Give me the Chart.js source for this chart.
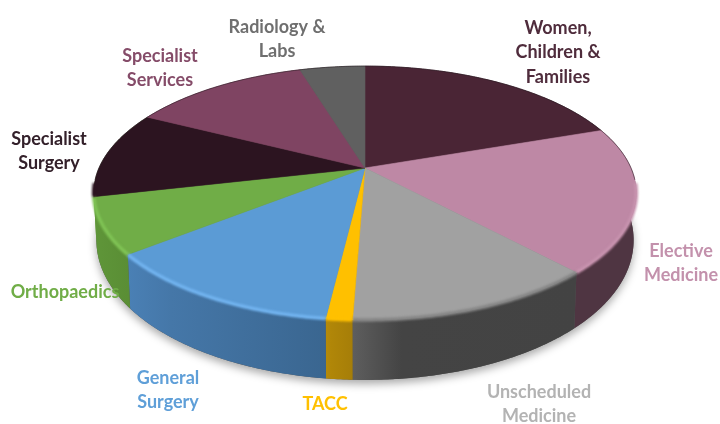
<!DOCTYPE html>
<html>
<head>
<meta charset="utf-8">
<script src="https://cdn.jsdelivr.net/npm/chart.js@4"></script>
<style>
html,body{margin:0;padding:0;background:#fff;width:720px;height:424px;overflow:hidden}
canvas{display:block;filter:blur(0.55px)}
</style>
</head>
<body>
<canvas id="c" width="720" height="424"></canvas>
<script>
const categories = ["Women, Children & Families","Elective Medicine","Unscheduled Medicine","TACC","General Surgery","Orthopaedics","Specialist Surgery","Specialist Services","Radiology & Labs"];
const shares = [19.7,18.4,12.5,1.3,12.4,7.1,11.1,12.8,4.7];
const faceColors = ["#4a2535","#be88a5","#a1a1a1","#ffc000","#5b9bd5","#70ad47","#2c1420","#7f4462","#606060"];
const wallLeft  = ["#3a1c2a","#4f3542","#5e5e5e","#b58a0a","#4a80b5","#5f9639","#5f9639","#5f3049","#4a4a4a"];
const wallMid   = ["#3a1c2a","#4f3542","#444444","#b08608","#4577a8","#5e9438","#5f9639","#5f3049","#4a4a4a"];
const wallRight = ["#3a1c2a","#4f3542","#434343","#a67e08","#3a6690","#5a8e35","#5f9639","#5f3049","#4a4a4a"];
const bevelColors = ["#4a2535","#c893af","#858585","#ffc000","#72b4f0","#80c455","#2c1420","#7f4462","#606060"];
const labelColors = ["#4f2c3c","#c391ac","#b3b3b3","#ffc000","#5f9fd8","#70ad47","#33202a","#854c69","#6f6f6f"];
const labelLines = [["Women,","Children &","Families"],["Elective","Medicine"],["Unscheduled","Medicine"],["TACC"],["General","Surgery"],["Orthopaedics"],["Specialist","Surgery"],["Specialist","Services"],["Radiology &","Labs"]];
const labelAnchors = [[558,28],[681,251],[539,392],[325,404],[168,378],[65,292],[49,139],[160,56],[277,27]];

// Tilted-disc projection applied to the arc angles computed by Chart.js
const view = {cx:365, cy:168, rx:266, ry:122, k:0.197, wallBase:44, wallGrow:16};
function top3d(t){
  const u=Math.cos(t), v=Math.sin(t), w=1-view.k*v;
  return [view.cx+view.rx*u/w, view.cy+view.ry*v/w];
}
function bottom3d(t){
  const p=top3d(t), v=Math.sin(t);
  return [view.cx+(p[0]-view.cx)*0.99, p[1]+view.wallBase+view.wallGrow*v];
}
function samples(a,b){
  const n=Math.max(4,Math.ceil((b-a)/0.01)), out=[];
  for(let i=0;i<=n;i++) out.push(a+(b-a)*i/n);
  return out;
}
function trace(ctx,pts,move){
  pts.forEach((p,i)=>{ if(i===0&&move) ctx.moveTo(p[0],p[1]); else ctx.lineTo(p[0],p[1]); });
}

const tiltedPie = {
  id:'tiltedPie',
  beforeDatasetDraw(chart,args){
    const ctx=chart.ctx, arcs=args.meta.data;
    const spans=arcs.map(a=>[a.startAngle,a.endAngle]);

    // soft shadow under the disc
    ctx.save();
    ctx.shadowColor='rgba(0,0,0,0.34)'; ctx.shadowBlur=9; ctx.shadowOffsetY=4;
    ctx.fillStyle='#555';
    ctx.beginPath();
    trace(ctx,samples(-Math.PI/2,Math.PI*1.5).map(bottom3d),true);
    ctx.closePath(); ctx.fill();
    ctx.restore();

    // side walls
    spans.forEach(([a,b],i)=>{
      const ts=samples(a,b), up=ts.map(top3d), lo=ts.map(bottom3d).reverse();
      const xs=up.map(p=>p[0]), x0=Math.min(...xs), x1=Math.max(...xs);
      const g=ctx.createLinearGradient(x0,0,x1+0.01,0);
      g.addColorStop(0,wallLeft[i]); g.addColorStop(0.22,wallMid[i]); g.addColorStop(1,wallRight[i]);
      ctx.fillStyle=g;
      ctx.beginPath(); trace(ctx,up,true); trace(ctx,lo,false); ctx.closePath(); ctx.fill();
    });

    // top faces
    spans.forEach(([a,b],i)=>{
      ctx.fillStyle=faceColors[i]; ctx.strokeStyle=faceColors[i]; ctx.lineWidth=0.6;
      ctx.beginPath(); ctx.moveTo(view.cx,view.cy); trace(ctx,samples(a,b).map(top3d),false);
      ctx.closePath(); ctx.fill(); ctx.stroke();
    });

    // rim: dark hairline along the back, bevel along the front
    ctx.save();
    ctx.strokeStyle='rgba(40,30,35,0.55)'; ctx.lineWidth=1;
    ctx.beginPath(); trace(ctx,samples(Math.PI*0.97,Math.PI*2.03).map(top3d),true); ctx.stroke();
    ctx.restore();
    spans.forEach(([a,b],i)=>{
      const lo=Math.max(a,0.12), hi=Math.min(b,Math.PI-0.12);
      if(lo>=hi) return;
      ctx.save();
      ctx.filter='blur(1.3px)';
      ctx.strokeStyle=bevelColors[i]; ctx.lineWidth=3.5;
      ctx.beginPath(); trace(ctx,samples(lo,hi).map(top3d),true); ctx.stroke();
      ctx.restore();
    });
    return false;
  },
  afterDatasetsDraw(chart){
    const ctx=chart.ctx;
    ctx.save();
    ctx.font='bold 18px Lato';
    ctx.textAlign='center'; ctx.textBaseline='middle';
    labelLines.forEach((lines,i)=>{
      ctx.fillStyle=labelColors[i];
      lines.forEach((s,j)=>ctx.fillText(s,labelAnchors[i][0],labelAnchors[i][1]+j*24.5));
    });
    ctx.restore();
  }
};

new Chart(document.getElementById('c'),{
  type:'pie',
  data:{labels:categories,datasets:[{data:shares,backgroundColor:faceColors,borderWidth:0}]},
  options:{
    responsive:false,animation:false,
    plugins:{legend:{display:false},tooltip:{enabled:false},title:{display:false}}
  },
  plugins:[tiltedPie]
});
</script>
</body>
</html>
